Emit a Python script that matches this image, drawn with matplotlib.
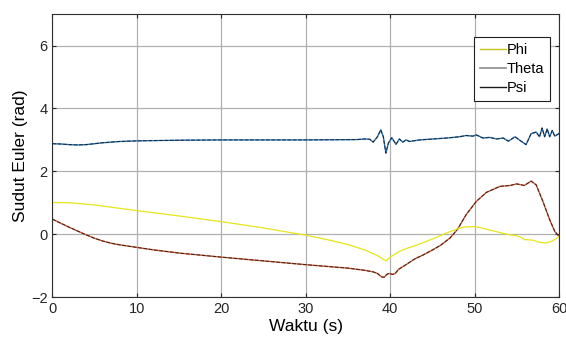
import numpy as np
import matplotlib.pyplot as plt
from matplotlib.lines import Line2D

plt.rcParams['font.family'] = ['Liberation Sans', 'DejaVu Sans']

# Phi (kuning)
t_phi = [0, 2, 3, 5, 10, 15, 20, 25, 28, 30, 33, 35, 37, 38.5, 39.5, 40, 40.5, 41.1, 42, 43,
         44.3, 45.5, 46.7, 47.9, 48.8, 50, 50.5, 51.4, 52.6, 53.5, 54.2, 55, 55.5, 55.9, 56.9,
         57.7, 58.5, 59.2, 59.6, 60]
phi = [1.01, 1.0, 0.98, 0.93, 0.75, 0.58, 0.4, 0.2, 0.06, -0.03, -0.2, -0.33, -0.5, -0.68, -0.85,
       -0.73, -0.65, -0.55, -0.45, -0.36, -0.23, -0.1, 0.04, 0.16, 0.23, 0.24, 0.22, 0.16, 0.08,
       0.02, -0.02, -0.05, -0.1, -0.17, -0.19, -0.26, -0.28, -0.22, -0.15, -0.07]

# garis atas (~3 rad)
t_top = [0, 1, 2, 3, 4, 5, 6, 8, 10, 15, 20, 30, 36, 37, 37.6, 38.0, 38.5, 38.9, 39.2, 39.5,
         39.8, 40.2, 40.7, 41.1, 41.5, 41.9, 42.3, 43.5, 45.1, 46.7, 48.2, 49, 49.8, 50.2, 51,
         51.8, 52.6, 53.4, 54, 54.8, 55.4, 56.1, 56.7, 57.3, 57.7, 58, 58.3, 58.6, 58.9, 59.2,
         59.5, 60]
top = [2.88, 2.87, 2.85, 2.84, 2.85, 2.88, 2.91, 2.95, 2.97, 2.99, 3.0, 3.0, 3.01, 3.03, 3.02,
       2.93, 3.1, 3.32, 3.1, 2.58, 2.9, 3.07, 2.86, 3.03, 2.93, 3.0, 2.95, 3.0, 3.03, 3.06, 3.1,
       3.14, 3.12, 3.16, 3.06, 3.08, 3.03, 3.06, 2.96, 3.1, 2.98, 2.85, 3.2, 3.25, 3.1, 3.38, 3.1,
       3.35, 3.1, 3.3, 3.12, 3.2]

# garis bawah
t_bot = [0, 1, 2, 3, 4, 5, 6, 7, 8, 10, 12, 15, 20, 25, 30, 35, 37, 38, 38.5, 39, 39.3, 39.6,
         39.9, 40.3, 40.6, 41, 42, 42.9, 44, 45.1, 46, 47.1, 48, 49, 50.2, 51.4, 53, 54.2, 55,
         55.9, 56.7, 57.3, 58.1, 58.9, 59.5, 60]
bot = [0.48, 0.35, 0.22, 0.1, -0.02, -0.13, -0.22, -0.29, -0.34, -0.42, -0.5, -0.6, -0.73,
       -0.85, -0.97, -1.08, -1.15, -1.2, -1.25, -1.36, -1.37, -1.28, -1.25, -1.28, -1.25, -1.12,
       -0.95, -0.79, -0.65, -0.49, -0.35, -0.12, 0.16, 0.62, 1.04, 1.33, 1.52, 1.55, 1.6, 1.55,
       1.69, 1.57, 1.04, 0.46, 0.09, -0.07]

fig = plt.figure(figsize=(5.66, 3.47), dpi=100)
ax = fig.add_axes([0.0924, 0.144, 0.8952, 0.815])

ax.plot(t_top, top, color='#2f7fc0', lw=1.0)
ax.plot(t_top, top, color='#1b2535', lw=0.7, dashes=(4, 1.5))
ax.plot(t_bot, bot, color='#d9603a', lw=1.0)
ax.plot(t_bot, bot, color='#3a2218', lw=0.7, dashes=(4, 1.5))
ax.plot(t_phi, phi, color='#e6e619', lw=0.9)

ax.set_xlim(0, 60)
ax.set_ylim(-2, 7)
ax.set_xticks([0, 10, 20, 30, 40, 50, 60])
ax.set_yticks([-2, 0, 2, 4, 6])
ax.grid(True, color='#b0b0b0', lw=0.9)
ax.set_axisbelow(True)
ax.tick_params(direction='in', length=3, labelsize=10.5, top=True, right=True, colors='#262626')
for s in ax.spines.values():
    s.set_color('#303030')
    s.set_linewidth(0.8)

ax.set_xlabel('Waktu (s)', fontsize=12.5, labelpad=2)
ax.set_ylabel('Sudut Euler (rad)', fontsize=12.5, labelpad=2)

handles = [Line2D([], [], color='#c4c41c', lw=1),
           Line2D([], [], color='#8c8c8c', lw=1.2),
           Line2D([], [], color='#1a1a1a', lw=1)]
leg = ax.legend(handles, ['Phi', 'Theta', 'Psi'], loc='upper right', bbox_to_anchor=(0.982, 0.918),
                fontsize=10.5, fancybox=False, framealpha=1, edgecolor='#202020',
                handlelength=1.8, handletextpad=0.05, borderpad=0.4, labelspacing=0.35,
                borderaxespad=0)
leg.get_frame().set_linewidth(0.8)

fig.savefig('out.png', dpi=100)
